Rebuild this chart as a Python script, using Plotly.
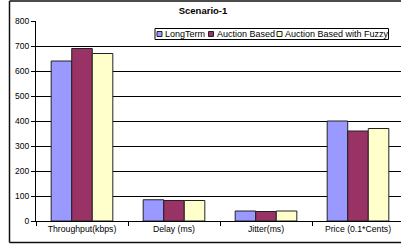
import plotly.graph_objects as go

categories = ["Throughput(kbps)", "Delay (ms)", "Jitter(ms)", "Price (0.1*Cents)"]
series_names = ["LongTerm", "Auction Based", "Auction Based with Fuzzy"]
long_term = [640, 85, 40, 400]
auction_based = [690, 82, 38, 360]
auction_fuzzy = [670, 82, 40, 370]
y_ticks = [0, 100, 200, 300, 400, 500, 600, 700, 800]
title_text = "Scenario-1"

colors = ["#9999FF", "#993366", "#FFFFCC"]
values = [long_term, auction_based, auction_fuzzy]

W, H = 401, 246
L, R, T, B = 36, 0, 21, 25
PW, PH = W - L - R, H - T - B
FONT = "Liberation Sans, Arial, sans-serif"


def px_x(px):
    return (px - L) / PW


def px_y(py):
    return (H - B - py) / PH


fig = go.Figure()
for name, vals, col in zip(series_names, values, colors):
    fig.add_trace(go.Bar(
        x=categories, y=vals, name=name,
        marker=dict(color=col, line=dict(color="#222222", width=1)),
        showlegend=False,
    ))

shapes = []
annotations = []
# outer chart border (right side falls outside the picture)
border = dict(xref="paper", yref="paper", type="line",
              line=dict(color="#111111", width=1.5), layer="above")
shapes.append(dict(border, x0=px_x(9.5), x1=px_x(9.5), y0=px_y(242.5), y1=px_y(1)))
shapes.append(dict(border, x0=px_x(9.5), x1=px_x(401), y0=px_y(1), y1=px_y(1)))
shapes.append(dict(border, x0=px_x(9.5), x1=px_x(401), y0=px_y(242.5), y1=px_y(242.5)))
# manual legend
shapes.append(dict(type="rect", xref="paper", yref="paper",
                   x0=px_x(155), x1=px_x(388.5), y0=px_y(39.5), y1=px_y(28.5),
                   line=dict(color="#000000", width=1), fillcolor="white", layer="above"))
sq_x = [157, 208.5, 277]
txt_x = [163, 214.5, 283]
for i, name in enumerate(series_names):
    shapes.append(dict(type="rect", xref="paper", yref="paper",
                       x0=px_x(sq_x[i]), x1=px_x(sq_x[i] + 5),
                       y0=px_y(36.5), y1=px_y(31.5),
                       line=dict(color="#222222", width=1), fillcolor=colors[i], layer="above"))
    annotations.append(dict(text=name, xref="paper", yref="paper",
                            x=px_x(txt_x[i]), y=px_y(34), xanchor="left", yanchor="middle",
                            showarrow=False, font=dict(family=FONT, size=9, color="black")))

fig.update_layout(
    width=W, height=H,
    margin=dict(l=L, r=R, t=T, b=B, pad=0),
    paper_bgcolor="white", plot_bgcolor="white",
    barmode="group", bargap=0.33, bargroupgap=0,
    title=dict(text="<b>" + title_text + "</b>", x=203 / W, y=1 - 11 / H,
               xanchor="center", yanchor="middle",
               font=dict(family=FONT, size=9.5, color="black")),
    font=dict(family=FONT, size=9, color="black"),
    shapes=shapes, annotations=annotations,
    xaxis=dict(type="category", range=[-0.5, -0.5 + PW / 92.0],
               showline=True, linecolor="black", linewidth=1,
               ticks="outside", tickson="boundaries", ticklen=4, tickcolor="black",
               showgrid=False, tickfont=dict(family=FONT, size=8.7, color="black")),
    yaxis=dict(range=[0, 800], tickvals=y_ticks, showline=True, linecolor="black", linewidth=1,
               ticks="outside", ticklen=4, tickcolor="black",
               showgrid=True, gridcolor="black", gridwidth=1, zeroline=False,
               tickfont=dict(family=FONT, size=8.5, color="black")),
)

fig.write_html("out.html", config={"displayModeBar": False, "staticPlot": True},
               post_script="document.documentElement.style.margin='0';"
                           "document.documentElement.style.overflow='hidden';"
                           "document.body.style.margin='0';document.body.style.padding='0';"
                           "document.body.style.overflow='hidden';"
                           "document.body.style.width='401px';")
